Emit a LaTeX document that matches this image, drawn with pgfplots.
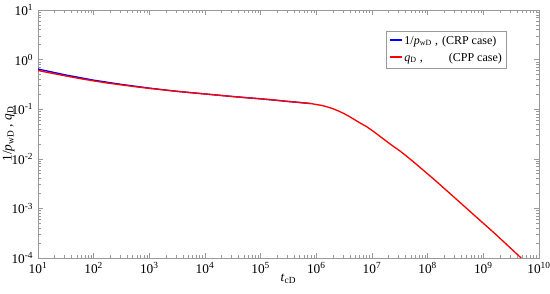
\documentclass[border=0pt]{standalone}
\usepackage{pgfplots}
\pgfplotsset{compat=1.18}
\usepackage{fontspec}
\setmainfont{Liberation Serif}
\begin{document}
\begin{tikzpicture}
\begin{axis}[
  scale only axis,
  width=375.75pt, height=186pt,
  xmode=log, ymode=log,
  xmin=10, xmax=1e10, ymin=1e-4, ymax=10,
  axis line style={gray!80},
  every tick/.style={gray!80},
  tick align=inside,
  major tick length=4pt, minor tick length=2pt,
  xtick={1e1,1e2,1e3,1e4,1e5,1e6,1e7,1e8,1e9,1e10},
  minor xtick={2e1,3e1,4e1,5e1,6e1,7e1,8e1,9e1,
    2e2,3e2,4e2,5e2,6e2,7e2,8e2,9e2,
    2e3,3e3,4e3,5e3,6e3,7e3,8e3,9e3,
    2e4,3e4,4e4,5e4,6e4,7e4,8e4,9e4,
    2e5,3e5,4e5,5e5,6e5,7e5,8e5,9e5,
    2e6,3e6,4e6,5e6,6e6,7e6,8e6,9e6,
    2e7,3e7,4e7,5e7,6e7,7e7,8e7,9e7,
    2e8,3e8,4e8,5e8,6e8,7e8,8e8,9e8,
    2e9,3e9,4e9,5e9,6e9,7e9,8e9,9e9},
  xticklabels={10\textsuperscript{1},10\textsuperscript{2},10\textsuperscript{3},10\textsuperscript{4},10\textsuperscript{5},10\textsuperscript{6},10\textsuperscript{7},10\textsuperscript{8},10\textsuperscript{9},10\textsuperscript{10}},
  ytick={1e-4,1e-3,1e-2,1e-1,1,10},
  minor ytick={2e-4,3e-4,4e-4,5e-4,6e-4,7e-4,8e-4,9e-4,
    2e-3,3e-3,4e-3,5e-3,6e-3,7e-3,8e-3,9e-3,
    2e-2,3e-2,4e-2,5e-2,6e-2,7e-2,8e-2,9e-2,
    2e-1,3e-1,4e-1,5e-1,6e-1,7e-1,8e-1,9e-1,
    2,3,4,5,6,7,8,9},
  yticklabels={10\textsuperscript{-4},10\textsuperscript{-3},10\textsuperscript{-2},10\textsuperscript{-1},10\textsuperscript{0},10\textsuperscript{1}},
  ticklabel style={font=\fontsize{10}{11}\selectfont},
  xlabel={\textit{t}\textsubscript{cD}},
  ylabel={1/\textit{p}\textsubscript{wD} , \textit{q}\textsubscript{D}},
  label style={font=\fontsize{10}{11}\selectfont},
  xlabel style={yshift=7pt},
  ylabel style={yshift=-9pt},
  legend style={at={(0.695,0.915)}, anchor=north west, draw=gray!80,
    font=\fontsize{9}{10.5}\selectfont, inner sep=1.5pt, row sep=1pt,
    column sep=0pt, nodes={inner xsep=1.5pt}},
  legend cell align=left,
  legend image code/.code={},
]
\addplot[color=blue, line width=1pt] coordinates {
(10,0.645) (31.62,0.49) (100,0.385) (316.2,0.316) (1000,0.266) (3162,0.229)
(10000,0.203) (31620,0.180) (1e5,0.162) (3.162e5,0.143) (7.943e5,0.130)
};
\addlegendentry{\textcolor{blue}{\rule[0.3em]{9pt}{1pt}}\,1/\textit{p}\textsubscript{wD} ,\hspace{3pt}(CRP case)}
\addplot[color=red, line width=1pt] coordinates {
(10,0.603) (17.78,0.53) (31.62,0.468) (56.23,0.415) (100,0.372) (177.8,0.337) (316.2,0.309) (562.3,0.284) (1000,0.263) (1778,0.245) (3162,0.229)
(5623,0.215) (10000,0.203) (17780,0.191) (31620,0.180) (56230,0.170) (1e5,0.162) (1.778e5,0.153) (3.162e5,0.143) (5.012e5,0.137) (7.943e5,0.130)
(1.259e6,0.119) (1.585e6,0.111) (1.995e6,0.102) (2.512e6,0.0918) (3.162e6,0.0813) (3.981e6,0.0705) (5.012e6,0.0603) (6.310e6,0.0516) (7.943e6,0.0447)
(1e7,0.0374) (1.259e7,0.0309) (1.585e7,0.0254) (1.995e7,0.0209) (2.512e7,0.0173) (3.162e7,0.01445) (3.981e7,0.0118) (5.012e7,0.00955) (6.310e7,0.00770) (7.943e7,0.00617)
(1e8,0.00495) (1.259e8,0.00398) (2.512e8,0.002) (6.310e8,7.94e-4) (1.585e9,3.16e-4) (4.786e9,1.0e-4)
};
\addlegendentry{\textcolor{red}{\rule[0.3em]{9pt}{1pt}}\,\textit{q}\textsubscript{D} ,\hspace{19.5pt}(CPP case)}
\end{axis}
\pgfresetboundingbox
\path (current axis.south west) ++(-28.5pt,-26.25pt) coordinate (bbA);
\path (current axis.north east) ++(8.25pt,7.5pt) coordinate (bbB);
\useasboundingbox (bbA) rectangle (bbB);
\end{tikzpicture}
\end{document}
